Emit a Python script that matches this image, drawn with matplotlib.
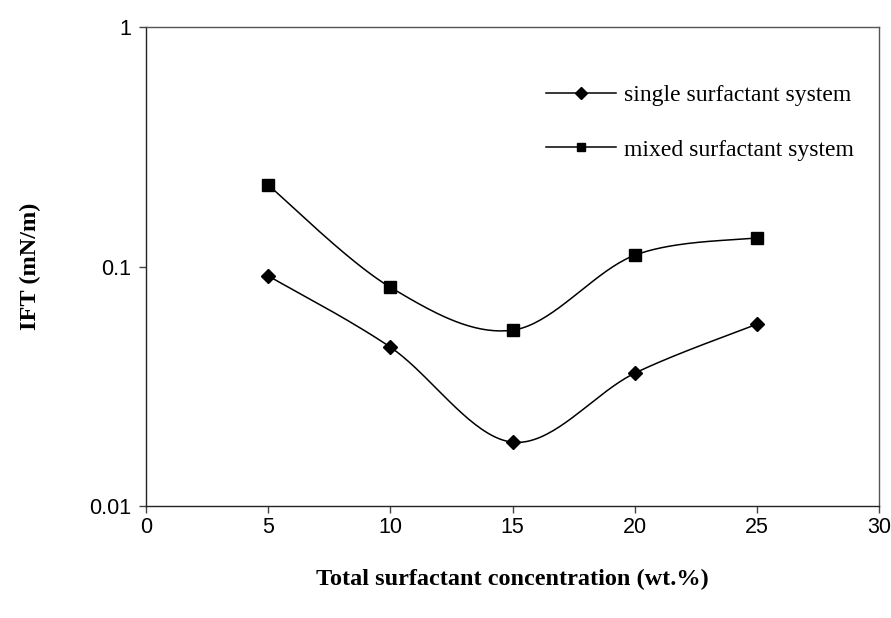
import numpy as np
import matplotlib
matplotlib.use("Agg")
import matplotlib.pyplot as plt
from matplotlib.ticker import FixedLocator, NullLocator, FixedFormatter

conc = [5, 10, 15, 20, 25]
single_ift = [0.0915, 0.0461, 0.0185, 0.0359, 0.0575]
mixed_ift = [0.219, 0.082, 0.0543, 0.1116, 0.132]
xticks = [0, 5, 10, 15, 20, 25, 30]
yticks = [0.01, 0.1, 1]
ytick_labels = ["0.01", "0.1", "1"]


def smooth(x, y, n=40):
    # Catmull-Rom style smoothing (as in spreadsheet "smoothed line") in log space
    x = np.asarray(x, float)
    ly = np.log10(np.asarray(y, float))
    P = np.column_stack([x, ly])
    pts = [P[0]]
    for i in range(len(P) - 1):
        p0 = P[i - 1] if i > 0 else P[i]
        p1 = P[i]
        p2 = P[i + 1]
        p3 = P[i + 2] if i + 2 < len(P) else P[i + 1]
        c1 = p1 + (p2 - p0) / 6.0
        c2 = p2 - (p3 - p1) / 6.0
        t = np.linspace(0, 1, n)[1:, None]
        seg = ((1 - t) ** 3) * p1 + 3 * ((1 - t) ** 2) * t * c1 + 3 * (1 - t) * t ** 2 * c2 + t ** 3 * p2
        pts.extend(seg)
    pts = np.array(pts)
    return pts[:, 0], 10 ** pts[:, 1]


fig = plt.figure(figsize=(8.91, 6.18), dpi=100)
ax = fig.add_axes([0.164, 0.181, 0.8225, 0.775])

sx, sy = smooth(conc, single_ift)
mx, my = smooth(conc, mixed_ift)
ax.plot(sx, sy, color="black", lw=1.1)
ax.plot(conc, single_ift, linestyle="none", marker="D", ms=7, color="black")
ax.plot(mx, my, color="black", lw=1.1)
ax.plot(conc, mixed_ift, linestyle="none", marker="s", ms=8, color="black")

# legend proxies
ax.plot([], [], color="black", lw=1.1, marker="D", ms=6, label="single surfactant system")
ax.plot([], [], color="black", lw=1.1, marker="s", ms=6, label="mixed surfactant system")
leg = ax.legend(loc="upper right", frameon=False, handlelength=3.0, handletextpad=0.3,
                labelspacing=1.4, borderaxespad=0.0, bbox_to_anchor=(0.978, 0.9),
                prop={"family": "Liberation Serif", "size": 17})

ax.set_yscale("log")
ax.set_xlim(0, 30)
ax.set_ylim(0.01, 1)
ax.xaxis.set_major_locator(FixedLocator(xticks))
ax.yaxis.set_major_locator(FixedLocator(yticks))
ax.yaxis.set_major_formatter(FixedFormatter(ytick_labels))
ax.yaxis.set_minor_locator(NullLocator())
for lab in ax.get_xticklabels() + ax.get_yticklabels():
    lab.set_fontfamily("Liberation Sans")
    lab.set_fontsize(15.5)
ax.tick_params(axis="both", direction="out", length=5, width=1, color="#444444")
ax.tick_params(axis="x", pad=3)
ax.tick_params(axis="y", pad=6)

for s in ["left", "bottom"]:
    ax.spines[s].set_color("#222222")
    ax.spines[s].set_linewidth(1.0)
for s in ["top", "right"]:
    ax.spines[s].set_color("#555555")
    ax.spines[s].set_linewidth(1.0)

ax.set_xlabel("Total surfactant concentration (wt.%)", family="Liberation Serif",
              fontweight="bold", fontsize=17.5, labelpad=22)
ax.set_ylabel("IFT (mN/m)", family="Liberation Serif", fontweight="bold",
              fontsize=17.5, labelpad=34)

fig.savefig("out.png", dpi=100)
